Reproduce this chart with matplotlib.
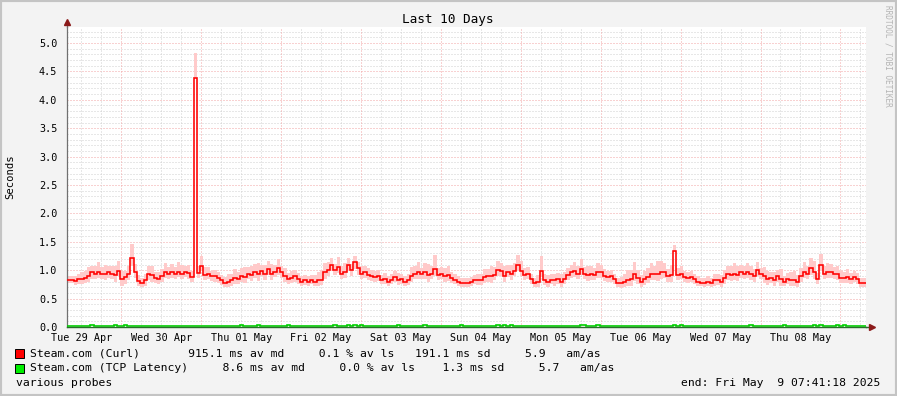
import numpy as np
import matplotlib.pyplot as plt
from matplotlib.patches import Rectangle

# ---- data (hourly bins, first bin starts Tue 29 Apr 07:41) ----
t_start = 7 + 41 / 60 + 18 / 3600     # hours since Tue 29 Apr 00:00
day_labels = ['Tue 29 Apr', 'Wed 30 Apr', 'Thu 01 May', 'Fri 02 May', 'Sat 03 May',
              'Sun 04 May', 'Mon 05 May', 'Tue 06 May', 'Wed 07 May', 'Thu 08 May']

# Steam.com (Curl) median, seconds
curl_median = [
    0.83, 0.83, 0.81, 0.84, 0.85, 0.86, 0.90, 0.96, 0.93, 0.97, 0.94, 0.93, 0.97, 0.94, 0.91, 0.99, 0.85, 0.88, 0.94, 1.21, 0.96, 0.81, 0.78, 0.82,
    0.93, 0.91, 0.86, 0.84, 0.90, 0.96, 0.94, 0.97, 0.94, 0.97, 0.94, 0.97, 0.95, 0.88, 4.38, 0.95, 1.07, 0.92, 0.94, 0.90, 0.89, 0.86, 0.82, 0.77,
    0.80, 0.82, 0.86, 0.84, 0.89, 0.88, 0.94, 0.92, 0.97, 0.93, 0.99, 0.94, 1.02, 0.94, 0.97, 1.03, 0.96, 0.89, 0.84, 0.86, 0.89, 0.84, 0.80, 0.82,
    0.80, 0.83, 0.80, 0.82, 0.83, 0.96, 1.00, 1.09, 1.00, 1.06, 0.94, 0.97, 1.09, 1.00, 1.14, 1.03, 0.94, 0.96, 0.92, 0.90, 0.88, 0.90, 0.83, 0.84,
    0.80, 0.83, 0.88, 0.83, 0.84, 0.80, 0.83, 0.90, 0.94, 0.96, 0.93, 0.96, 0.92, 0.94, 1.02, 0.92, 0.94, 0.89, 0.92, 0.86, 0.83, 0.80, 0.78, 0.78,
    0.78, 0.80, 0.83, 0.83, 0.83, 0.88, 0.90, 0.89, 0.92, 1.00, 0.99, 0.90, 0.97, 0.93, 0.99, 1.09, 0.99, 0.92, 0.94, 0.84, 0.78, 0.80, 0.99, 0.83,
    0.80, 0.83, 0.82, 0.84, 0.80, 0.84, 0.92, 0.96, 0.99, 0.94, 1.02, 0.94, 0.92, 0.93, 0.92, 0.97, 0.96, 0.90, 0.88, 0.89, 0.84, 0.78, 0.77, 0.80,
    0.83, 0.84, 0.94, 0.86, 0.80, 0.84, 0.88, 0.94, 0.93, 0.94, 0.96, 0.97, 0.90, 0.92, 1.33, 0.92, 0.94, 0.88, 0.86, 0.88, 0.84, 0.80, 0.78, 0.78,
    0.80, 0.78, 0.82, 0.83, 0.80, 0.86, 0.93, 0.92, 0.94, 0.92, 0.96, 0.94, 0.97, 0.93, 0.90, 1.00, 0.93, 0.89, 0.84, 0.86, 0.83, 0.89, 0.84, 0.80,
    0.84, 0.82, 0.83, 0.80, 0.90, 0.97, 0.94, 1.03, 0.97, 0.84, 1.10, 0.94, 0.97, 0.97, 0.94, 0.93, 0.86, 0.86, 0.88, 0.84, 0.88, 0.84, 0.78, 0.78,
]

# smoke band: spread above / below the median, in hundredths of a second
smoke_up = [
    6, 7, 8, 9, 11, 13, 15, 11, 14, 18, 12, 16, 11, 14, 16, 18, 14, 11, 14, 26, 15, 11, 9, 11,
    14, 16, 11, 13, 12, 16, 11, 14, 12, 18, 15, 11, 14, 10, 44, 13, 18, 14, 11, 9, 11, 10, 9, 11,
    14, 11, 16, 12, 14, 18, 11, 16, 14, 20, 11, 16, 14, 17, 12, 16, 11, 14, 11, 12, 11, 11, 9, 10,
    9, 8, 11, 14, 18, 16, 14, 12, 11, 18, 14, 16, 12, 11, 11, 12, 14, 11, 12, 10, 11, 11, 9, 11,
    9, 10, 11, 12, 10, 9, 11, 16, 14, 18, 11, 16, 19, 14, 24, 11, 12, 14, 16, 11, 10, 9, 8, 9,
    9, 8, 9, 11, 11, 14, 12, 18, 14, 16, 14, 18, 12, 16, 14, 18, 18, 11, 12, 9, 9, 11, 26, 11,
    11, 10, 11, 11, 14, 12, 11, 14, 16, 14, 18, 12, 16, 14, 11, 16, 14, 12, 11, 11, 9, 9, 11, 14,
    18, 16, 20, 14, 11, 14, 16, 18, 14, 22, 20, 16, 12, 18, 12, 11, 14, 11, 11, 10, 9, 9, 8, 9,
    9, 9, 11, 11, 11, 14, 14, 16, 18, 16, 14, 14, 16, 14, 12, 14, 11, 16, 14, 11, 14, 11, 18, 9,
    11, 14, 16, 11, 14, 18, 14, 18, 20, 11, 18, 14, 16, 14, 11, 14, 12, 11, 14, 11, 11, 11, 9, 8,
]
smoke_dn = [
    6, 6, 7, 8, 9, 9, 10, 11, 9, 11, 9, 11, 10, 9, 11, 10, 12, 13, 11, 13, 9, 9, 8, 9,
    10, 11, 9, 9, 10, 9, 10, 11, 10, 9, 10, 9, 10, 9, 0, 9, 9, 10, 9, 9, 9, 8, 8, 7,
    9, 9, 10, 9, 10, 11, 9, 11, 10, 12, 9, 11, 10, 11, 9, 11, 10, 9, 9, 9, 9, 9, 8, 8,
    8, 8, 8, 9, 9, 11, 11, 10, 9, 11, 10, 11, 11, 10, 12, 11, 10, 9, 10, 9, 9, 9, 8, 9,
    8, 8, 9, 9, 8, 8, 9, 11, 10, 11, 9, 11, 12, 10, 13, 9, 10, 10, 11, 9, 8, 8, 7, 7,
    7, 8, 8, 9, 9, 10, 10, 11, 10, 11, 10, 11, 9, 11, 10, 11, 10, 9, 10, 8, 7, 9, 11, 9,
    9, 8, 9, 9, 10, 9, 9, 10, 11, 10, 11, 10, 11, 10, 9, 11, 10, 9, 9, 9, 8, 7, 8, 10,
    11, 11, 13, 10, 9, 10, 11, 12, 10, 13, 12, 11, 10, 12, 0, 10, 10, 9, 9, 9, 8, 7, 6, 7,
    8, 7, 9, 9, 9, 10, 10, 11, 11, 11, 10, 10, 11, 10, 10, 10, 9, 11, 10, 9, 10, 9, 11, 8,
    9, 10, 11, 9, 10, 11, 10, 12, 13, 9, 11, 10, 11, 10, 9, 10, 9, 9, 10, 9, 9, 9, 7, 7,
]

# Steam.com (TCP Latency) median, ms
tcp_ms = [
    9, 9, 9, 9, 9, 9, 9, 30, 9, 9, 9, 9, 9, 9, 30, 9, 9, 30, 9, 9, 9, 9, 9, 9,
    9, 9, 9, 9, 9, 9, 9, 9, 9, 9, 9, 9, 9, 9, 9, 9, 9, 9, 9, 9, 9, 9, 9, 9,
    9, 9, 9, 9, 30, 9, 9, 9, 9, 30, 9, 9, 9, 9, 9, 9, 9, 9, 30, 9, 9, 9, 9, 9,
    9, 9, 9, 9, 9, 9, 9, 9, 30, 9, 9, 9, 30, 9, 30, 9, 30, 9, 9, 9, 9, 9, 9, 9,
    9, 9, 9, 30, 9, 9, 9, 9, 9, 9, 9, 30, 9, 9, 9, 9, 9, 9, 9, 9, 9, 9, 30, 9,
    9, 9, 9, 9, 9, 9, 9, 9, 9, 30, 9, 30, 9, 30, 9, 9, 9, 9, 9, 9, 9, 9, 9, 9,
    9, 9, 9, 9, 9, 9, 9, 9, 9, 9, 30, 30, 9, 9, 9, 30, 9, 9, 9, 9, 9, 9, 9, 9,
    9, 9, 9, 9, 9, 9, 9, 9, 9, 9, 9, 9, 9, 9, 30, 9, 30, 9, 9, 9, 9, 9, 9, 9,
    9, 9, 9, 9, 9, 9, 9, 9, 9, 9, 9, 9, 9, 30, 9, 9, 9, 9, 9, 9, 9, 9, 9, 30,
    9, 9, 9, 9, 9, 9, 9, 9, 30, 9, 30, 9, 9, 9, 9, 30, 9, 30, 9, 9, 9, 9, 9, 9,
]

legend_rows = [
    'Steam.com (Curl)       915.1 ms av md     0.1 % av ls   191.1 ms sd     5.9   am/as',
    'Steam.com (TCP Latency)     8.6 ms av md     0.0 % av ls    1.3 ms sd     5.7   am/as',
]
legend_colors = ['#ff0000', '#00ee00']
end_text = 'end: Fri May  9 07:41:18 2025'

# ---- figure ----
W, H = 897, 396
MONO = 'DejaVu Sans Mono'
plt.rcParams['font.family'] = MONO

def fx(px):
    return px / W

def fy(py):
    return 1 - py / H

fig = plt.figure(figsize=(W / 100, H / 100), dpi=100, facecolor='#f3f3f3')
fig.add_artist(Rectangle((0, 0), 1, 1, transform=fig.transFigure, fill=False,
                         ec='#c4c4c4', lw=3))

ax = fig.add_axes([fx(67), 69 / H, 799 / W, 300 / H])
ax.set_facecolor('white')

med = np.array(curl_median)
edges = t_start + np.arange(len(med) + 1)
hi = med + np.array(smoke_up) / 100
lo = med - np.array(smoke_dn) / 100
tcp = np.array(tcp_ms) / 1000

ymax = 300 / 56.8
ax.set_xlim(edges[0], edges[-1])
ax.set_ylim(0, ymax)

# grid
for v in np.arange(0.1, ymax, 0.1):
    major = abs(v / 0.5 - round(v / 0.5)) < 1e-6
    ax.axhline(v, color='#f2a4a4' if major else '#d0d0d0', lw=0.72,
               ls=(0, (1, 2)), zorder=0)
for h in np.arange(6, edges[-1], 6):
    if h < edges[0]:
        continue
    major = h % 24 == 0
    ax.axvline(h, color='#f2a4a4' if major else '#d0d0d0', lw=0.72,
               ls=(0, (1, 2)), zorder=0)

# smoke + median
ax.stairs(hi, edges, baseline=lo, fill=True, color='#ffcaca', lw=0, zorder=2)
ax.stairs(med, edges, baseline=None, color='#ff0000', lw=1.15, zorder=3)
ax.stairs(tcp, edges, baseline=None, color='#00d000', lw=1.2, zorder=3)

# axes
for s in ['top', 'right']:
    ax.spines[s].set_visible(False)
ax.spines['left'].set_color('#707070')
ax.spines['bottom'].set_color('#2a6e2a')
ax.spines['left'].set_linewidth(0.9)
ax.spines['bottom'].set_linewidth(1.0)
ax.spines['bottom'].set_zorder(4)
ax.plot([1, 1.008], [0, 0], transform=ax.transAxes, color='#2a6e2a', lw=1.0, clip_on=False)
ax.plot([0, 0], [1, 1.017], transform=ax.transAxes, color='#707070', lw=0.9, clip_on=False)
ax.plot([1.008], [0], marker='>', ms=4, color='#8b1a1a', transform=ax.transAxes, clip_on=False)
ax.plot([0], [1.017], marker='^', ms=4, color='#8b1a1a', transform=ax.transAxes, clip_on=False)

yt = np.arange(0, 5.01, 0.5)
ax.set_yticks(yt)
ax.set_yticklabels([f'{v:.1f}' for v in yt])
ax.set_xticks(12 + 24 * np.arange(len(day_labels)))
ax.set_xticklabels(day_labels)
ax.tick_params(axis='y', length=0, pad=7, labelsize=7.3)
ax.tick_params(axis='x', length=0, pad=4, labelsize=7.3)

# texts
fig.text(fx(448), fy(19), 'Last 10 Days', ha='center', va='center', fontsize=9.2)
fig.text(fx(10), fy(177), 'Seconds', ha='center', va='center', rotation=90, fontsize=7.6)
fig.text(fx(888), fy(5), 'RRDTOOL / TOBI OETIKER', ha='center', va='top', rotation=270,
         fontsize=5.6, color='#b4b4b4')

for i, (row, col) in enumerate(zip(legend_rows, legend_colors)):
    yc = 353 + 15 * i
    fig.add_artist(Rectangle((fx(15), fy(yc + 4.5)), 9 / W, 9 / H, transform=fig.transFigure,
                             fc=col, ec='black', lw=0.7))
    fig.text(fx(30), fy(yc), row, ha='left', va='center', fontsize=8.2)

fig.text(fx(16), fy(383), 'various probes', ha='left', va='center', fontsize=8.2)
fig.text(fx(880), fy(383), end_text, ha='right', va='center', fontsize=8.2)

fig.savefig('out.png', dpi=100, facecolor=fig.get_facecolor())
